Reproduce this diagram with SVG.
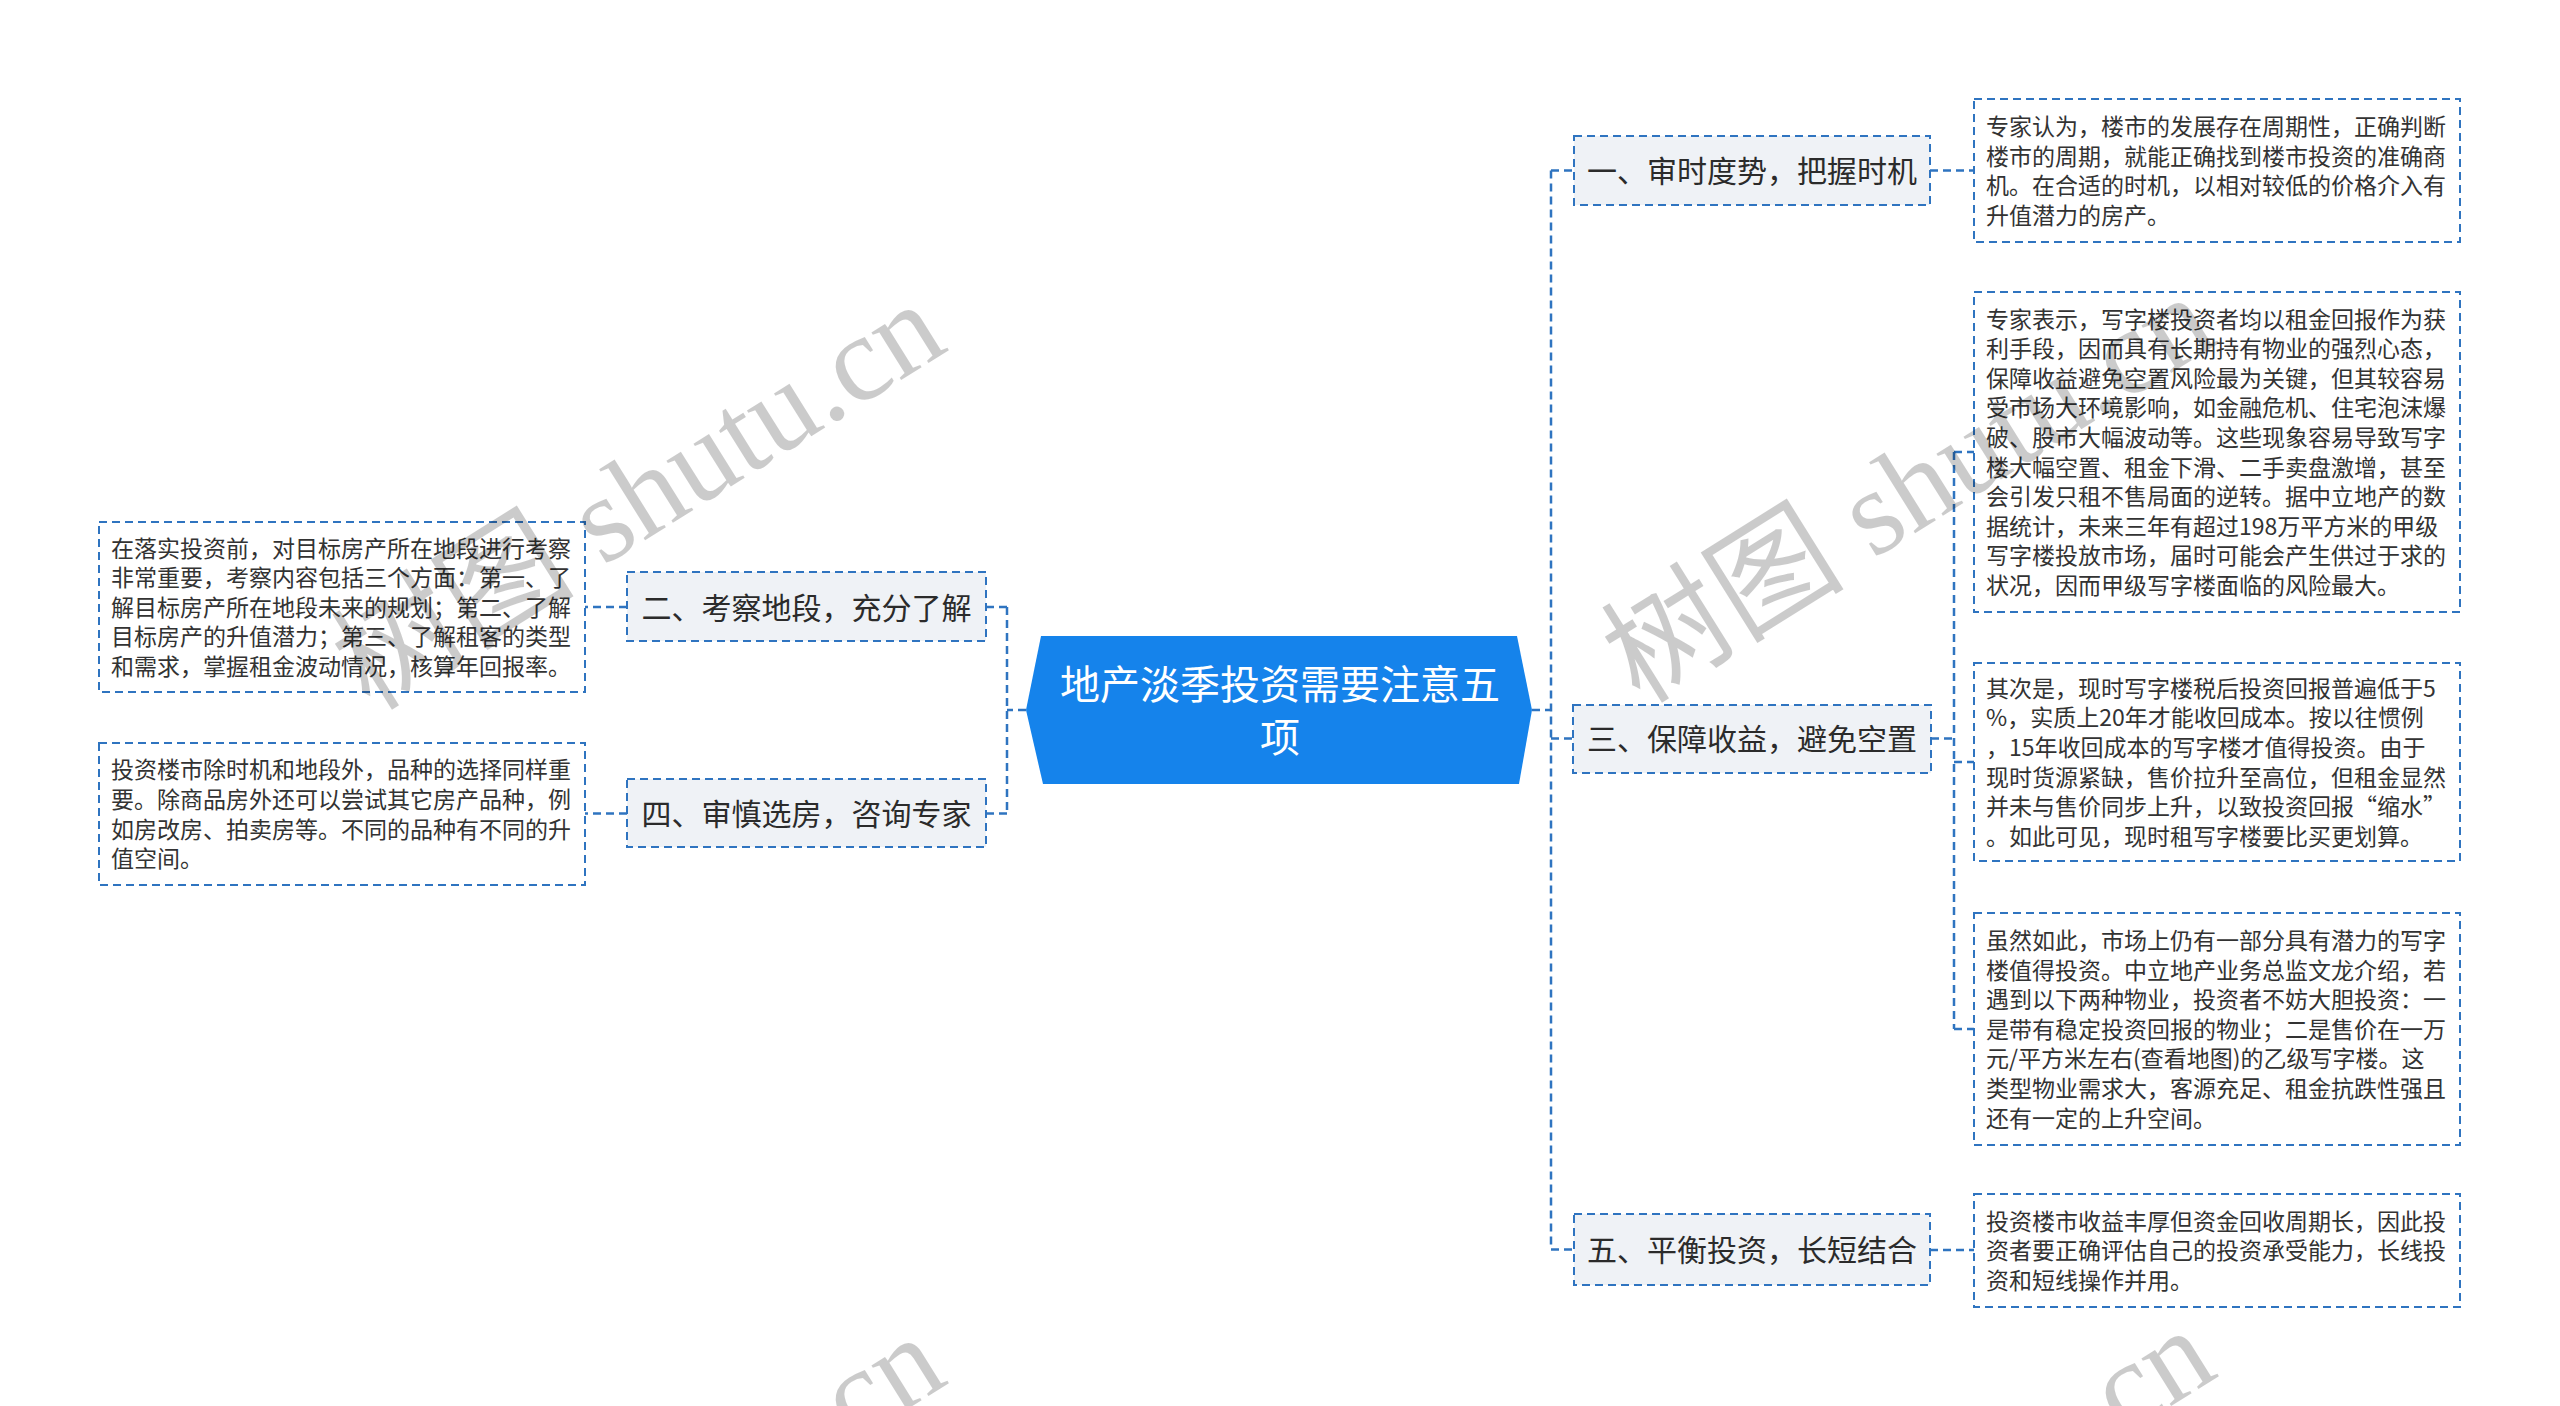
<svg xmlns="http://www.w3.org/2000/svg" width="2560" height="1406" viewBox="0 0 2560 1406">
<defs>
<style>
.bg{fill:#ffffff}
.conn{fill:none;stroke:#2f74c0;stroke-width:2.5;stroke-dasharray:8 5}
.node{fill:#eff2f6;stroke:#2f74c0;stroke-width:2;stroke-dasharray:8 5}
.leaf{fill:#ffffff;stroke:#2f74c0;stroke-width:2;stroke-dasharray:8 5}
.nt{font-family:"Noto Sans CJK SC","Noto Sans",sans-serif;font-size:30px;fill:#2b2b2b;text-anchor:middle}
.lt{font-family:"Noto Sans CJK SC","Noto Sans",sans-serif;font-size:23px;fill:#333333}
.ct{font-family:"Noto Sans CJK SC","Noto Sans",sans-serif;font-size:40px;fill:#ffffff;text-anchor:middle}
.wm{font-family:"Liberation Serif","Noto Sans CJK SC",serif;font-size:122px;fill:#000000;opacity:0.2}
</style>
</defs>
<rect class="bg" x="0" y="0" width="2560" height="1406"/>

<g id="connectors">
<path class="conn" d="M1532,710 H1551 M1551,170.5 V1249.5 M1551,170.5 H1574 M1551,738.5 H1573 M1551,1249.5 H1574"/>
<path class="conn" d="M1930,170.5 H1974"/>
<path class="conn" d="M1931,738.5 H1954 M1954,452 V1029 M1954,452 H1974 M1954,762 H1974 M1954,1029 H1974"/>
<path class="conn" d="M1930,1250 H1974"/>
<path class="conn" d="M1026,710 H1007 M1007,607 V813.5 M1007,607 H986 M1007,813.5 H986"/>
<path class="conn" d="M627,607 H585 M627,813.5 H585"/>
</g>

<g id="center">
<polygon points="1041,636 1517,636 1532,710 1519,784 1043,784 1026,710" fill="#1583eb"/>
<text class="ct" x="1280" y="699">地产淡季投资需要注意五</text>
<text class="ct" x="1280" y="752">项</text>
</g>

<g id="n1">
<rect class="node" x="1574" y="136" width="356" height="69"/>
<text class="nt" x="1752" y="182">一、审时度势，把握时机</text>
</g>
<g id="n1-leaf">
<rect class="leaf" x="1974" y="99" width="486" height="143"/>
<text class="lt"><tspan x="1986" y="135">专家认为，楼市的发展存在周期性，正确判断</tspan><tspan x="1986" y="164.5">楼市的周期，就能正确找到楼市投资的准确商</tspan><tspan x="1986" y="194">机。在合适的时机，以相对较低的价格介入有</tspan><tspan x="1986" y="223.5">升值潜力的房产。</tspan></text>
</g>

<g id="n3">
<rect class="node" x="1573" y="705" width="358" height="68"/>
<text class="nt" x="1752" y="750">三、保障收益，避免空置</text>
</g>
<g id="n3-leaf1">
<rect class="leaf" x="1974" y="292" width="486" height="320"/>
<text class="lt"><tspan x="1986" y="327.5">专家表示，写字楼投资者均以租金回报作为获</tspan><tspan x="1986" y="357.1">利手段，因而具有长期持有物业的强烈心态，</tspan><tspan x="1986" y="386.7">保障收益避免空置风险最为关键，但其较容易</tspan><tspan x="1986" y="416.3">受市场大环境影响，如金融危机、住宅泡沫爆</tspan><tspan x="1986" y="445.9">破、股市大幅波动等。这些现象容易导致写字</tspan><tspan x="1986" y="475.5">楼大幅空置、租金下滑、二手卖盘激增，甚至</tspan><tspan x="1986" y="505.1">会引发只租不售局面的逆转。据中立地产的数</tspan><tspan x="1986" y="534.7">据统计，未来三年有超过198万平方米的甲级</tspan><tspan x="1986" y="564.3">写字楼投放市场，届时可能会产生供过于求的</tspan><tspan x="1986" y="593.9">状况，因而甲级写字楼面临的风险最大。</tspan></text>
</g>
<g id="n3-leaf2">
<rect class="leaf" x="1974" y="663" width="486" height="198"/>
<text class="lt"><tspan x="1986" y="696.7">其次是，现时写字楼税后投资回报普遍低于5</tspan><tspan x="1986" y="726.3">%，实质上20年才能收回成本。按以往惯例</tspan><tspan x="1986" y="755.9">，15年收回成本的写字楼才值得投资。由于</tspan><tspan x="1986" y="785.5">现时货源紧缺，售价拉升至高位，但租金显然</tspan><tspan x="1986" y="815.1">并未与售价同步上升，以致投资回报“缩水”</tspan><tspan x="1986" y="844.7">。如此可见，现时租写字楼要比买更划算。</tspan></text>
</g>
<g id="n3-leaf3">
<rect class="leaf" x="1974" y="913" width="486" height="232"/>
<text class="lt"><tspan x="1986" y="948.9">虽然如此，市场上仍有一部分具有潜力的写字</tspan><tspan x="1986" y="978.5">楼值得投资。中立地产业务总监文龙介绍，若</tspan><tspan x="1986" y="1008.1">遇到以下两种物业，投资者不妨大胆投资：一</tspan><tspan x="1986" y="1037.7">是带有稳定投资回报的物业；二是售价在一万</tspan><tspan x="1986" y="1067.3">元/平方米左右(查看地图)的乙级写字楼。这</tspan><tspan x="1986" y="1096.9">类型物业需求大，客源充足、租金抗跌性强且</tspan><tspan x="1986" y="1126.5">还有一定的上升空间。</tspan></text>
</g>

<g id="n5">
<rect class="node" x="1574" y="1214" width="356" height="71"/>
<text class="nt" x="1752" y="1261">五、平衡投资，长短结合</text>
</g>
<g id="n5-leaf">
<rect class="leaf" x="1974" y="1194" width="486" height="113"/>
<text class="lt"><tspan x="1986" y="1229.6">投资楼市收益丰厚但资金回收周期长，因此投</tspan><tspan x="1986" y="1259.2">资者要正确评估自己的投资承受能力，长线投</tspan><tspan x="1986" y="1288.8">资和短线操作并用。</tspan></text>
</g>

<g id="n2">
<rect class="node" x="627" y="572" width="359" height="69"/>
<text class="nt" x="806.5" y="618.5">二、考察地段，充分了解</text>
</g>
<g id="n2-leaf">
<rect class="leaf" x="99" y="522" width="486" height="170"/>
<text class="lt"><tspan x="111" y="556.5">在落实投资前，对目标房产所在地段进行考察</tspan><tspan x="111" y="586.1">非常重要，考察内容包括三个方面：第一、了</tspan><tspan x="111" y="615.7">解目标房产所在地段未来的规划；第二、了解</tspan><tspan x="111" y="645.3">目标房产的升值潜力；第三、了解租客的类型</tspan><tspan x="111" y="674.9">和需求，掌握租金波动情况，核算年回报率。</tspan></text>
</g>

<g id="n4">
<rect class="node" x="627" y="779" width="359" height="68"/>
<text class="nt" x="806.5" y="825">四、审慎选房，咨询专家</text>
</g>
<g id="n4-leaf">
<rect class="leaf" x="99" y="743" width="486" height="142"/>
<text class="lt"><tspan x="111" y="778.3">投资楼市除时机和地段外，品种的选择同样重</tspan><tspan x="111" y="807.9">要。除商品房外还可以尝试其它房产品种，例</tspan><tspan x="111" y="837.5">如房改房、拍卖房等。不同的品种有不同的升</tspan><tspan x="111" y="867.1">值空间。</tspan></text>
</g>

<g id="watermarks">
<text class="wm" transform="translate(370,712) rotate(-32)">树图 shutu.cn</text>
<text class="wm" transform="translate(1640,705) rotate(-32)">树图 shutu.cn</text>
<text class="wm" transform="translate(370,1745) rotate(-32)">树图 shutu.cn</text>
<text class="wm" transform="translate(1640,1738) rotate(-32)">树图 shutu.cn</text>
</g>
</svg>
